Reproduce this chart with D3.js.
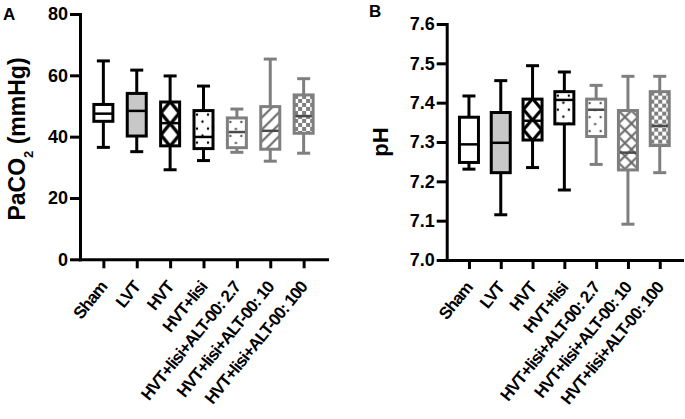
<!DOCTYPE html>
<html>
<head>
  <meta charset="UTF-8">
  <title>PaCO2 / pH</title>
  <script src="https://d3js.org/d3.v7.min.js"></script>
  <style>
    body { margin: 0; background: #fff; }
    text { font-family: "Liberation Sans", Arial, sans-serif; font-weight: bold; fill: #000; }
  </style>
</head>
<body>
  <div id="chart"></div>

  <script>
    // groups on the x axis
    const groups = ["Sham", "LVT", "HVT", "HVT+lisi",
                    "HVT+lisi+ALT-00: 2.7", "HVT+lisi+ALT-00: 10", "HVT+lisi+ALT-00: 100"];

    // panel A: PaCO2 (mmHg) – min, Q1, median, Q3, max
    const pacoMin = [36.5, 35.1, 29.2, 32.2, 34.9, 32.0, 34.6];
    const pacoQ1  = [45.0, 40.2, 37.0, 36.1, 36.4, 35.9, 41.1];
    const pacoMed = [47.5, 48.4, 44.4, 39.9, 41.5, 41.9, 46.7];
    const pacoQ3  = [50.5, 54.1, 51.3, 48.5, 46.1, 49.8, 53.6];
    const pacoMax = [64.7, 61.7, 59.8, 56.5, 49.0, 65.3, 58.9];
    const pacoTicks = [0, 20, 40, 60, 80];

    // panel B: pH
    const phMin = [7.231, 7.115, 7.235, 7.178, 7.243, 7.091, 7.222];
    const phQ1  = [7.248, 7.222, 7.305, 7.346, 7.314, 7.229, 7.291];
    const phMed = [7.294, 7.298, 7.354, 7.407, 7.382, 7.273, 7.341];
    const phQ3  = [7.363, 7.375, 7.409, 7.428, 7.409, 7.380, 7.428];
    const phMax = [7.417, 7.456, 7.494, 7.478, 7.444, 7.467, 7.467];
    const phTicks = [7.0, 7.1, 7.2, 7.3, 7.4, 7.5, 7.6];

    const gray = "#7f7f7f";
    const boxW = 19, capW = 13, lw = 3;

    const svg = d3.select("#chart").append("svg")
                  .attr("width", 685)
                  .attr("height", 419);
    const defs = svg.append("defs");

    // one pattern per box so the tile lines up with the box corner
    function addPattern(id, kind, bx, by, bw, bh, cross) {
      const p = defs.append("pattern")
                    .attr("id", id)
                    .attr("patternUnits", "userSpaceOnUse")
                    .attr("x", bx).attr("y", by);
      if (kind === "diamond") {
        const tw = bw, th = bh / 2;
        p.attr("width", tw).attr("height", th);
        p.append("rect").attr("width", tw).attr("height", th).attr("fill", "#000");
        const dw = tw * 0.37, dh = th * 0.4;
        [[tw / 2, th / 2], [0, 0], [tw, 0], [0, th], [tw, th]].forEach(([cx, cy]) => {
          p.append("path")
           .attr("d", `M${cx},${cy - dh}L${cx + dw},${cy}L${cx},${cy + dh}L${cx - dw},${cy}Z`)
           .attr("fill", "#fff");
        });
      } else if (kind === "dots" || kind === "dotsGray") {
        const c = kind === "dots" ? "#000" : "#555";
        p.attr("width", 11).attr("height", 14);
        p.append("rect").attr("width", 11).attr("height", 14).attr("fill", "#fff");
        p.append("circle").attr("cx", 3).attr("cy", 4).attr("r", 1.2).attr("fill", c);
        p.append("circle").attr("cx", 8.5).attr("cy", 11).attr("r", 1.2).attr("fill", c);
      } else if (kind === "hatch") {
        const s = cross ? 13 : 12;
        p.attr("width", s).attr("height", s);
        p.append("rect").attr("width", s).attr("height", s).attr("fill", "#fff");
        let d = `M0,${s}L${s},0M${-s / 4},${s / 4}L${s / 4},${-s / 4}M${s * 3 / 4},${s * 5 / 4}L${s * 5 / 4},${s * 3 / 4}`;
        if (cross) d += `M0,0L${s},${s}M${-s / 4},${s * 3 / 4}L${s / 4},${s * 5 / 4}M${s * 3 / 4},${-s / 4}L${s * 5 / 4},${s / 4}`;
        p.append("path").attr("d", d).attr("stroke", "#666").attr("stroke-width", 2).attr("fill", "none");
      } else if (kind === "checker") {
        p.attr("width", 8).attr("height", 8);
        p.append("rect").attr("width", 8).attr("height", 8).attr("fill", "#fff");
        p.append("rect").attr("width", 4).attr("height", 4).attr("fill", gray);
        p.append("rect").attr("x", 4).attr("y", 4).attr("width", 4).attr("height", 4).attr("fill", gray);
      }
      return `url(#${id})`;
    }

    const kinds = ["white", "solid", "diamond", "dots", "dotsGray", "hatch", "checker"];

    function drawPanel(o) {
      const x = d3.scalePoint().domain(groups).range(o.xRange).padding(0.7);
      const y = d3.scaleLinear().domain(o.yDomain).range(o.yRange);
      const base = y(o.yDomain[0]);

      const g = svg.append("g");

      // boxes
      groups.forEach((name, i) => {
        const cx = x(name);
        const col = i < 4 ? "#000" : gray;
        const top = y(o.q3[i]), bot = y(o.q1[i]);
        const bx = cx - boxW / 2;
        let fill = "#fff";
        if (kinds[i] === "solid") fill = "#c8c8c8";
        else if (kinds[i] !== "white") fill = addPattern(`${o.tag}-p${i}`, kinds[i], bx, top, boxW, bot - top, o.cross);

        const b = g.append("g");
        b.append("line").attr("x1", cx).attr("x2", cx)
         .attr("y1", y(o.max[i])).attr("y2", top)
         .attr("stroke", col).attr("stroke-width", lw);
        b.append("line").attr("x1", cx).attr("x2", cx)
         .attr("y1", bot).attr("y2", y(o.min[i]))
         .attr("stroke", col).attr("stroke-width", lw);
        [o.max[i], o.min[i]].forEach(v => {
          b.append("line").attr("x1", cx - capW / 2).attr("x2", cx + capW / 2)
           .attr("y1", y(v)).attr("y2", y(v))
           .attr("stroke", col).attr("stroke-width", lw);
        });
        b.append("rect").attr("x", bx).attr("y", top)
         .attr("width", boxW).attr("height", bot - top)
         .attr("fill", fill);
        b.append("line").attr("x1", bx).attr("x2", bx + boxW)
         .attr("y1", y(o.med[i])).attr("y2", y(o.med[i]))
         .attr("stroke", i < 4 ? "#000" : "#4a4a4a").attr("stroke-width", 2.5);
        b.append("rect").attr("x", bx).attr("y", top)
         .attr("width", boxW).attr("height", bot - top)
         .attr("fill", "none").attr("stroke", col).attr("stroke-width", lw);
      });

      // y axis
      const ya = svg.append("g")
                    .attr("transform", `translate(${o.xRange[0]},0)`)
                    .call(d3.axisLeft(y).tickValues(o.ticks).tickFormat(o.fmt)
                            .tickSize(10).tickPadding(2).tickSizeOuter(0));
      // x axis
      const xa = svg.append("g")
                    .attr("transform", `translate(0,${base})`)
                    .call(d3.axisBottom(x).tickSize(9).tickSizeOuter(0));

      [ya, xa].forEach(a => {
        a.select(".domain").attr("stroke-width", lw).attr("stroke-linecap", "square");
        a.selectAll(".tick line").attr("stroke-width", lw);
      });
      ya.selectAll(".tick text").style("font-size", "18px");
      xa.selectAll(".tick text")
        .attr("x", 0).attr("y", 0).attr("dy", 0)
        .attr("text-anchor", "end")
        .attr("transform", "translate(4,28) rotate(-51)")
        .style("font-size", "17px")
        .style("letter-spacing", "-1px");
    }

    drawPanel({
      tag: "a", xRange: [80, 327], yDomain: [0, 80], yRange: [259.3, 14],
      ticks: pacoTicks, fmt: d3.format("d"),
      min: pacoMin, q1: pacoQ1, med: pacoMed, q3: pacoQ3, max: pacoMax, cross: false
    });
    drawPanel({
      tag: "b", xRange: [446.7, 682], yDomain: [7.0, 7.6], yRange: [260, 24],
      ticks: phTicks, fmt: d3.format(".1f"),
      min: phMin, q1: phQ1, med: phMed, q3: phQ3, max: phMax, cross: true
    });

    // panel letters and axis titles
    svg.append("text").attr("x", 3).attr("y", 20).style("font-size", "17px").text("A");
    svg.append("text").attr("x", 369).attr("y", 17).style("font-size", "17px").text("B");

    const yt = svg.append("text")
                  .attr("transform", "translate(25,139) rotate(-90)")
                  .attr("text-anchor", "middle")
                  .style("font-size", "23px");
    yt.append("tspan").text("PaCO");
    yt.append("tspan").attr("baseline-shift", "sub").style("font-size", "13px").text("2");
    yt.append("tspan").text(" (mmHg)");

    svg.append("text")
       .attr("transform", "translate(388,142) rotate(-90)")
       .attr("text-anchor", "middle")
       .style("font-size", "22px")
       .text("pH");
  </script>
</body>
</html>
